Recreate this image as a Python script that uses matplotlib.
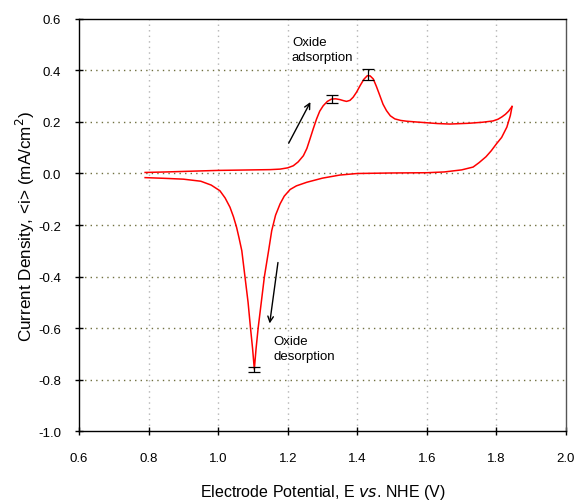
import matplotlib
matplotlib.use("Agg")
import matplotlib.pyplot as plt

plt.rcParams['font.family'] = ['Liberation Sans', 'DejaVu Sans']

# Anodic (forward) sweep
E_fwd = [0.79, 0.85, 0.90, 1.00, 1.10, 1.15, 1.178, 1.20, 1.216, 1.23, 1.245, 1.255,
         1.264, 1.273, 1.283, 1.292, 1.302, 1.314, 1.326, 1.338, 1.350, 1.360, 1.369,
         1.379, 1.388, 1.398, 1.408, 1.419, 1.429, 1.437, 1.446, 1.455, 1.465, 1.474,
         1.484, 1.495, 1.508, 1.525, 1.542, 1.57, 1.60, 1.63, 1.666, 1.72, 1.76, 1.79,
         1.805, 1.816, 1.826, 1.835, 1.845]
i_fwd = [0.004, 0.006, 0.008, 0.012, 0.014, 0.015, 0.017, 0.022, 0.030, 0.045, 0.069, 0.097,
         0.134, 0.172, 0.212, 0.242, 0.263, 0.280, 0.289, 0.290, 0.287, 0.283, 0.280,
         0.284, 0.296, 0.316, 0.341, 0.366, 0.380, 0.379, 0.367, 0.338, 0.302, 0.269,
         0.244, 0.224, 0.212, 0.206, 0.203, 0.200, 0.197, 0.194, 0.192, 0.195, 0.199, 0.204,
         0.211, 0.220, 0.230, 0.242, 0.260]

# Cathodic (reverse) sweep
E_rev = [1.845, 1.84, 1.83, 1.815, 1.80, 1.785, 1.77, 1.75, 1.733, 1.70, 1.65, 1.60, 1.50,
         1.40, 1.35, 1.30, 1.255, 1.225, 1.207, 1.19, 1.178, 1.165, 1.154, 1.145, 1.133,
         1.124, 1.115, 1.109, 1.104, 1.099, 1.093, 1.086, 1.077, 1.068, 1.060,
         1.053, 1.044, 1.034, 1.020, 1.005, 0.98, 0.95, 0.90, 0.85, 0.79]
i_rev = [0.260, 0.225, 0.180, 0.140, 0.115, 0.088, 0.065, 0.042, 0.025, 0.014, 0.006, 0.003,
         0.002, 0.000, -0.006, -0.018, -0.034, -0.048, -0.062, -0.088, -0.118, -0.162,
         -0.222, -0.300, -0.400, -0.500, -0.600, -0.680, -0.760, -0.680, -0.600, -0.500,
         -0.400, -0.300, -0.250, -0.209, -0.168, -0.131, -0.095, -0.067, -0.045,
         -0.030, -0.022, -0.019, -0.016]

# Peak currents with their spread
peak_E = [1.326, 1.432, 1.104]
peak_i = [0.289, 0.385, -0.760]
peak_err = [0.015, 0.021, 0.010]

x_ticks = [0.6, 0.8, 1.0, 1.2, 1.4, 1.6, 1.8, 2.0]
y_ticks = [-1.0, -0.8, -0.6, -0.4, -0.2, 0.0, 0.2, 0.4, 0.6]

fig = plt.figure(figsize=(5.76, 5.02), dpi=100)
ax = fig.add_axes([0.1372, 0.1394, 0.8454, 0.8208])

ax.set_xlim(0.6, 2.0)
ax.set_ylim(-1.0, 0.6)
ax.set_xticks(x_ticks)
ax.set_yticks(y_ticks)
ax.set_xticklabels([f"{v:.1f}" for v in x_ticks])
ax.set_yticklabels([f"{v:.1f}" for v in y_ticks])

for x in x_ticks[1:-1]:
    ax.axvline(x, color='#b4b4b4', linestyle=(0, (1, 3)), linewidth=1.0, zorder=0)
for y in y_ticks[1:-1]:
    ax.axhline(y, color='#707040', linestyle=(0, (1, 3)), linewidth=1.0, zorder=0)

ax.plot(E_fwd, i_fwd, color='red', linewidth=1.1, zorder=3)
ax.plot(E_rev, i_rev, color='red', linewidth=1.1, zorder=3)

ax.errorbar(peak_E, peak_i, yerr=peak_err, fmt='none', ecolor='black',
            elinewidth=0.9, capsize=4, capthick=0.9, zorder=4)

ax.annotate('', xy=(1.269, 0.287), xytext=(1.199, 0.108),
            arrowprops=dict(arrowstyle='->', color='black', lw=1.0))
ax.annotate('', xy=(1.147, -0.593), xytext=(1.173, -0.335),
            arrowprops=dict(arrowstyle='->', color='black', lw=1.0))

ax.text(1.212, 0.535, 'Oxide\nadsorption', fontsize=9.5, ha='left', va='top',
        linespacing=1.35)
ax.text(1.158, -0.628, 'Oxide\ndesorption', fontsize=9.5, ha='left', va='top',
        linespacing=1.35)

ax.tick_params(direction='inout', length=6, width=1.0, labelsize=9.5)
ax.tick_params(axis='x', pad=12)
ax.tick_params(axis='y', pad=10)

for side in ['left', 'bottom', 'top']:
    ax.spines[side].set_color('black')
ax.spines['right'].set_color('#555555')
for s in ax.spines.values():
    s.set_linewidth(1.0)

ax.set_xlabel('Electrode Potential, E $\\it{vs}$. NHE (V)', fontsize=11.5, labelpad=13)
ax.set_ylabel('Current Density, <i> (mA/cm$^2$)', fontsize=12.3, labelpad=1)

fig.savefig('out.png', dpi=100)
